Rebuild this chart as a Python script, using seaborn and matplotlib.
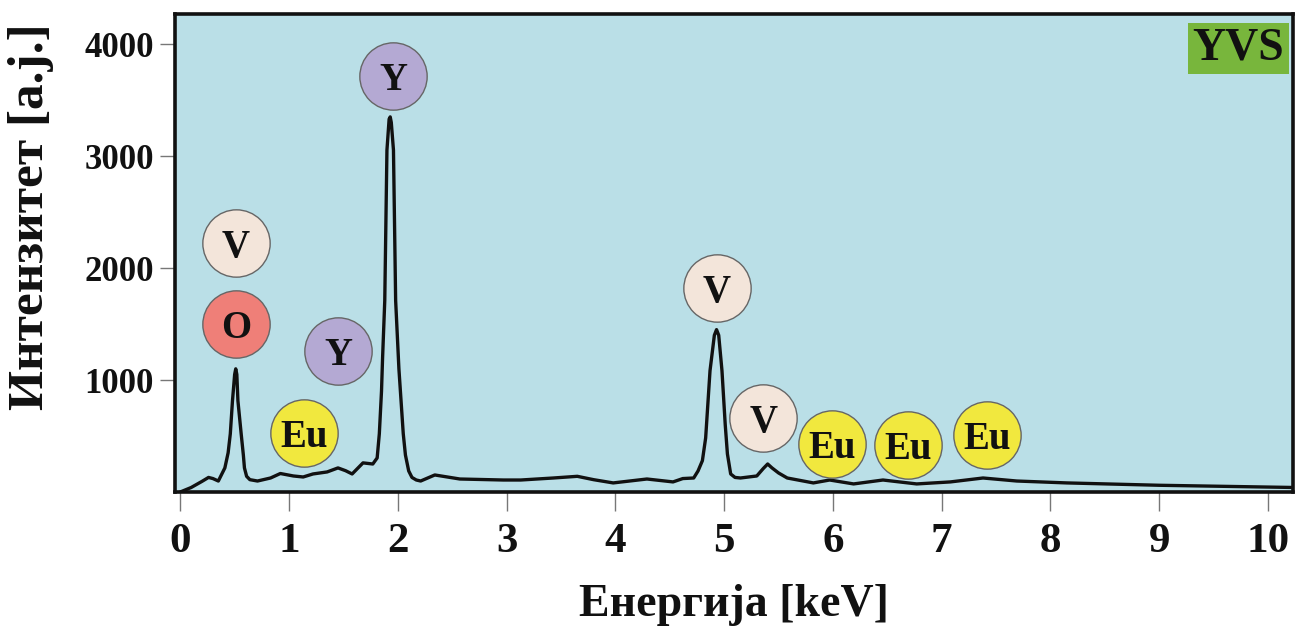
import matplotlib
matplotlib.use("Agg")
import matplotlib.pyplot as plt
import seaborn as sns
import pandas as pd

# spectrum (energy in keV, intensity in a.j.)
energy = [0.00, 0.10, 0.20, 0.26, 0.30, 0.35, 0.41, 0.44, 0.46, 0.48, 0.50, 0.51, 0.52,
          0.53, 0.56, 0.58, 0.59, 0.61, 0.64, 0.71, 0.83, 0.92, 1.04, 1.13, 1.22, 1.35,
          1.45, 1.52, 1.58, 1.68, 1.77, 1.81, 1.83, 1.85, 1.86, 1.88, 1.90, 1.92, 1.93,
          1.94, 1.96, 1.98, 2.01, 2.05, 2.07, 2.10, 2.13, 2.17, 2.21, 2.34, 2.57, 2.97,
          3.13, 3.43, 3.65, 3.80, 3.98, 4.29, 4.53, 4.62, 4.72, 4.76, 4.80, 4.83, 4.87,
          4.91, 4.93, 4.95, 4.98, 5.01, 5.03, 5.06, 5.10, 5.15, 5.30, 5.36, 5.40, 5.44,
          5.50, 5.58, 5.82, 5.97, 6.19, 6.46, 6.77, 7.08, 7.38, 7.69, 8.15, 9.00, 10.25]
intensity = [0, 40, 95, 130, 120, 98, 215, 350, 519, 815, 1050, 1100, 1050,
             815, 519, 330, 215, 140, 110, 98, 125, 165, 143, 134, 161, 179,
             215, 190, 161, 260, 250, 304, 520, 900, 1200, 1710, 3053, 3330, 3350,
             3300, 3053, 1710, 1100, 520, 330, 188, 130, 107, 98, 152, 116, 107,
             107, 125, 140, 110, 81, 116, 90, 120, 125, 188, 280, 483, 1083,
             1400, 1450, 1400, 1083, 600, 340, 161, 130, 125, 143, 210, 250, 215,
             170, 125, 81, 107, 72, 107, 72, 90, 125, 98, 81, 60, 40]

# element markers: label, energy, intensity of the circle centre, fill
labels = ["V", "O", "Y", "Eu", "Y", "V", "V", "Eu", "Eu", "Eu"]
label_e = [0.51, 0.51, 1.45, 1.14, 1.96, 4.93, 5.36, 5.99, 6.69, 7.42]
label_i = [2220, 1504, 1262, 528, 3715, 1826, 663, 430, 421, 510]
colors = {"V": "#f3e5da", "O": "#ef7f78", "Y": "#b4a9d3", "Eu": "#f1e83e"}

xticks = list(range(0, 11))
yticks = [1000, 2000, 3000, 4000]

sns.set_theme(style="ticks")
plt.rcParams["font.family"] = ["Liberation Serif", "DejaVu Serif"]
plt.rcParams["font.weight"] = "bold"
plt.rcParams["text.color"] = "#111111"
plt.rcParams["axes.labelcolor"] = "#111111"

fig = plt.figure(figsize=(12.95, 6.31), dpi=100)
ax = fig.add_axes([0.135, 0.2203, 0.8635, 0.7577])
ax.set_facecolor("#badfe7")

df = pd.DataFrame({"E": energy, "I": intensity})
sns.lineplot(data=df, x="E", y="I", ax=ax, color="#111111", linewidth=2.4, sort=False)

for lab, e, i in zip(labels, label_e, label_i):
    ax.scatter([e], [i], s=2350, color=colors[lab], edgecolor="#666666",
               linewidth=1.0, zorder=3)
    ax.text(e, i, lab, ha="center", va="center_baseline", fontsize=28,
            fontweight="bold", color="#111111", zorder=4)

ax.text(0.992, 0.928, "YVS", transform=ax.transAxes, ha="right", va="center",
        fontsize=33, fontweight="bold", color="#111111",
        bbox=dict(boxstyle="square,pad=0.1", facecolor="#78b63c", edgecolor="none"))

ax.set_xlim(-0.05, 10.23)
ax.set_ylim(0, 4270)
ax.set_xticks(xticks)
ax.set_yticks(yticks)
ax.tick_params(axis="x", length=14, width=1, color="#777777", labelcolor="#111111",
               pad=8, labelsize=31)
ax.tick_params(axis="y", length=11, width=1, color="#777777", labelcolor="#111111",
               pad=4, labelsize=25)
for t in ax.get_xticklabels() + ax.get_yticklabels():
    t.set_fontweight("bold")

for s in ax.spines.values():
    s.set_linewidth(2.6)
    s.set_color("#111111")

ax.set_xlabel("Енергија [keV]", fontsize=33, fontweight="bold", labelpad=17)
ax.set_ylabel("Интензитет [a.j.]", fontsize=37, fontweight="bold")
ax.yaxis.set_label_coords(-0.108, 0.575)

fig.savefig("out.png", dpi=100)
